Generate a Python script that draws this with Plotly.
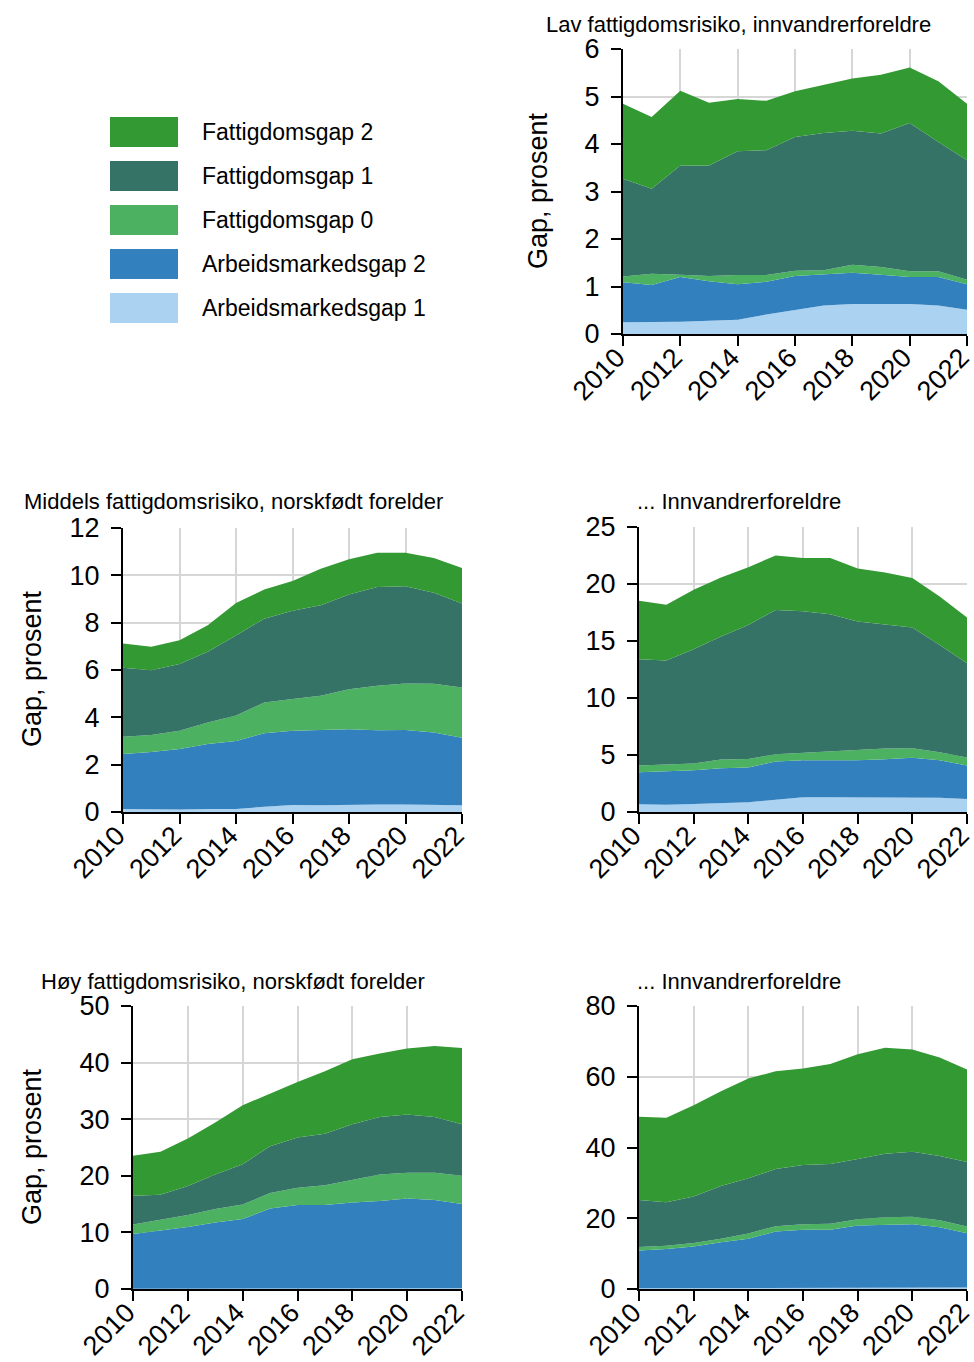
import plotly.graph_objects as go

W, H = 974, 1362

years = list(range(2010, 2023))

series_names = ["Arbeidsmarkedsgap 1", "Arbeidsmarkedsgap 2", "Fattigdomsgap 0",
                "Fattigdomsgap 1", "Fattigdomsgap 2"]
series_colors = ["#abd2f0", "#3380bf", "#4cb261", "#367367", "#339933"]

# Panel 1: Lav fattigdomsrisiko, innvandrerforeldre
lav_inv_ag1 = [0.25, 0.25, 0.26, 0.28, 0.30, 0.41, 0.51, 0.60, 0.63, 0.63, 0.63, 0.60, 0.51]
lav_inv_ag2 = [0.84, 0.78, 0.94, 0.83, 0.75, 0.69, 0.71, 0.65, 0.66, 0.62, 0.57, 0.60, 0.54]
lav_inv_fg0 = [0.12, 0.24, 0.05, 0.11, 0.19, 0.14, 0.11, 0.09, 0.17, 0.16, 0.12, 0.12, 0.09]
lav_inv_fg1 = [2.06, 1.79, 2.30, 2.33, 2.61, 2.63, 2.82, 2.89, 2.82, 2.81, 3.12, 2.72, 2.52]
lav_inv_fg2 = [1.58, 1.51, 1.57, 1.32, 1.10, 1.04, 0.96, 1.02, 1.10, 1.24, 1.17, 1.28, 1.19]

# Panel 2: Middels fattigdomsrisiko, norskfødt forelder
mid_nor_ag1 = [0.13, 0.11, 0.11, 0.13, 0.13, 0.22, 0.30, 0.28, 0.31, 0.32, 0.32, 0.31, 0.28]
mid_nor_ag2 = [2.32, 2.42, 2.55, 2.74, 2.87, 3.11, 3.13, 3.19, 3.19, 3.13, 3.14, 3.05, 2.86]
mid_nor_fg0 = [0.73, 0.72, 0.77, 0.91, 1.08, 1.30, 1.34, 1.44, 1.69, 1.88, 1.97, 2.06, 2.12]
mid_nor_fg1 = [2.91, 2.74, 2.82, 2.99, 3.38, 3.54, 3.73, 3.83, 4.00, 4.18, 4.11, 3.84, 3.55]
mid_nor_fg2 = [1.03, 0.99, 1.01, 1.12, 1.37, 1.23, 1.26, 1.54, 1.49, 1.44, 1.41, 1.47, 1.50]

# Panel 3: Middels fattigdomsrisiko, innvandrerforeldre
mid_inv_ag1 = [0.67, 0.64, 0.70, 0.79, 0.85, 1.08, 1.29, 1.29, 1.29, 1.32, 1.32, 1.26, 1.14]
mid_inv_ag2 = [2.82, 2.91, 2.96, 3.05, 3.05, 3.35, 3.25, 3.25, 3.25, 3.31, 3.43, 3.28, 2.93]
mid_inv_fg0 = [0.58, 0.61, 0.59, 0.76, 0.76, 0.64, 0.65, 0.82, 0.91, 0.94, 0.85, 0.71, 0.71]
mid_inv_fg1 = [9.32, 9.12, 10.02, 10.79, 11.75, 12.66, 12.42, 11.99, 11.26, 10.90, 10.58, 9.40, 8.26]
mid_inv_fg2 = [5.13, 4.89, 5.22, 5.18, 5.07, 4.78, 4.66, 4.92, 4.66, 4.54, 4.34, 4.25, 4.02]

# Panel 4: Høy fattigdomsrisiko, norskfødt forelder
hoy_nor_ag1 = [0.05, 0.05, 0.05, 0.05, 0.05, 0.08, 0.10, 0.10, 0.12, 0.13, 0.13, 0.13, 0.12]
hoy_nor_ag2 = [9.66, 10.30, 10.89, 11.71, 12.30, 14.16, 14.72, 14.72, 15.17, 15.40, 15.87, 15.58, 14.88]
hoy_nor_fg0 = [1.70, 1.83, 2.12, 2.36, 2.59, 2.70, 3.06, 3.53, 3.95, 4.71, 4.53, 4.82, 5.00]
hoy_nor_fg1 = [5.06, 4.47, 5.12, 6.12, 7.12, 8.30, 8.88, 9.06, 9.88, 10.17, 10.29, 9.88, 9.12]
hoy_nor_fg2 = [7.06, 7.59, 8.41, 9.17, 10.41, 9.29, 9.83, 11.06, 11.47, 11.18, 11.65, 12.53, 13.47]

# Panel 5: Høy fattigdomsrisiko, innvandrerforeldre
hoy_inv_ag1 = [0.20, 0.20, 0.20, 0.20, 0.20, 0.25, 0.30, 0.30, 0.35, 0.40, 0.40, 0.40, 0.40]
hoy_inv_ag2 = [10.70, 11.08, 11.83, 13.05, 13.99, 16.01, 16.43, 16.43, 17.60, 17.74, 17.93, 17.08, 15.39]
hoy_inv_fg0 = [0.94, 0.94, 0.94, 0.94, 1.51, 1.50, 1.60, 1.69, 1.79, 2.16, 2.06, 1.97, 1.88]
hoy_inv_fg1 = [13.35, 12.31, 13.16, 14.95, 15.60, 16.17, 16.73, 16.92, 17.01, 17.95, 18.43, 18.14, 18.23]
hoy_inv_fg2 = [23.49, 23.87, 25.84, 26.78, 28.19, 27.63, 27.25, 28.29, 29.60, 29.98, 28.85, 27.82, 26.13]

panel_titles = ["Lav fattigdomsrisiko, innvandrerforeldre",
                "Middels fattigdomsrisiko, norskfødt forelder",
                "... Innvandrerforeldre",
                "Høy fattigdomsrisiko, norskfødt forelder",
                "... Innvandrerforeldre"]
y_maxes = [6, 12, 25, 50, 80]
y_steps = [1, 2, 5, 10, 20]
y_title = "Gap, prosent"

panel_data = [
    [lav_inv_ag1, lav_inv_ag2, lav_inv_fg0, lav_inv_fg1, lav_inv_fg2],
    [mid_nor_ag1, mid_nor_ag2, mid_nor_fg0, mid_nor_fg1, mid_nor_fg2],
    [mid_inv_ag1, mid_inv_ag2, mid_inv_fg0, mid_inv_fg1, mid_inv_fg2],
    [hoy_nor_ag1, hoy_nor_ag2, hoy_nor_fg0, hoy_nor_fg1, hoy_nor_fg2],
    [hoy_inv_ag1, hoy_inv_ag2, hoy_inv_fg0, hoy_inv_fg1, hoy_inv_fg2],
]

# ---- layout geometry (pixels) ----
def px(x):
    return x / W

def py(y):
    return 1 - y / H

panel_boxes = [  # (left, right, top, bottom) in pixels
    (623, 967, 49, 334),
    (123, 462, 528, 812),
    (639, 967, 527, 812),
    (133, 462, 1006, 1289),
    (639, 967, 1006, 1289),
]
title_pos = [(738, 24), (233, 502), (739, 502), (233, 981), (739, 981)]
ytitle_pos = [(538, 191), (32, 669), None, (32, 1147), None]

FONT = "Liberation Sans, Arial, Helvetica, sans-serif"

fig = go.Figure()

for i, data in enumerate(panel_data):
    xa = "x" if i == 0 else f"x{i+1}"
    ya = "y" if i == 0 else f"y{i+1}"
    for name, col, vals in zip(series_names, series_colors, data):
        fig.add_trace(go.Scatter(
            x=years, y=vals, name=name, xaxis=xa, yaxis=ya,
            mode="lines", line=dict(width=0, color=col),
            fillcolor=col, stackgroup=f"s{i}", showlegend=False,
            hoverinfo="x+y+name",
        ))

axis_common = dict(
    showline=True, linecolor="black", linewidth=2,
    ticks="outside", ticklen=10, tickwidth=2, tickcolor="black",
    showgrid=True, gridcolor="#d6d6d6", gridwidth=2,
    zeroline=False, automargin=False, ticklabeloverflow="allow",
    tickfont=dict(family=FONT, size=27, color="black"),
)

layout = {}
for i, (l, r, t, b) in enumerate(panel_boxes):
    xk = "xaxis" if i == 0 else f"xaxis{i+1}"
    yk = "yaxis" if i == 0 else f"yaxis{i+1}"
    ya = "y" if i == 0 else f"y{i+1}"
    xa = "x" if i == 0 else f"x{i+1}"
    layout[xk] = dict(axis_common, domain=[px(l), px(r)], range=[2010, 2022],
                      tickmode="array", tickvals=years[::2],
                      ticktext=[str(y) for y in years[::2]],
                      tickangle=-45, anchor=ya,
                      ticklabelstandoff=-15, ticklabelshift=-6)
    layout[yk] = dict(axis_common, domain=[py(b), py(t)], range=[0, y_maxes[i]],
                      tickmode="linear", tick0=0, dtick=y_steps[i], anchor=xa,
                      ticklabelstandoff=6)

annotations = []
for i, (tx, ty) in enumerate(title_pos):
    annotations.append(dict(
        text=panel_titles[i], x=px(tx), y=py(ty), xref="paper", yref="paper",
        xanchor="center", yanchor="middle", showarrow=False,
        font=dict(family=FONT, size=22, color="black")))
for pos in ytitle_pos:
    if pos is None:
        continue
    annotations.append(dict(
        text=y_title, x=px(pos[0]), y=py(pos[1]), xref="paper", yref="paper",
        xanchor="center", yanchor="middle", showarrow=False, textangle=-90,
        font=dict(family=FONT, size=27, color="black")))

# ---- manual legend ----
legend_order = [4, 3, 2, 1, 0]
shapes = []
for k, idx in enumerate(legend_order):
    cy = 132 + 44 * k
    shapes.append(dict(type="rect", xref="paper", yref="paper",
                       x0=px(110), x1=px(178), y0=py(cy + 15), y1=py(cy - 15),
                       fillcolor=series_colors[idx], line=dict(width=0)))
    annotations.append(dict(
        text=series_names[idx], x=px(200), y=py(cy), xref="paper", yref="paper",
        xanchor="left", yanchor="middle", showarrow=False,
        font=dict(family=FONT, size=23, color="black")))

fig.update_layout(
    width=W, height=H,
    margin=dict(l=0, r=0, t=0, b=0, pad=0, autoexpand=False),
    paper_bgcolor="white", plot_bgcolor="white",
    showlegend=False, annotations=annotations, shapes=shapes,
    font=dict(family=FONT, color="black"),
    **layout,
)

fig.write_html(
    "out.html",
    config={"displayModeBar": False},
    post_script="document.body.style.margin='0';document.body.style.overflow='hidden';",
)
